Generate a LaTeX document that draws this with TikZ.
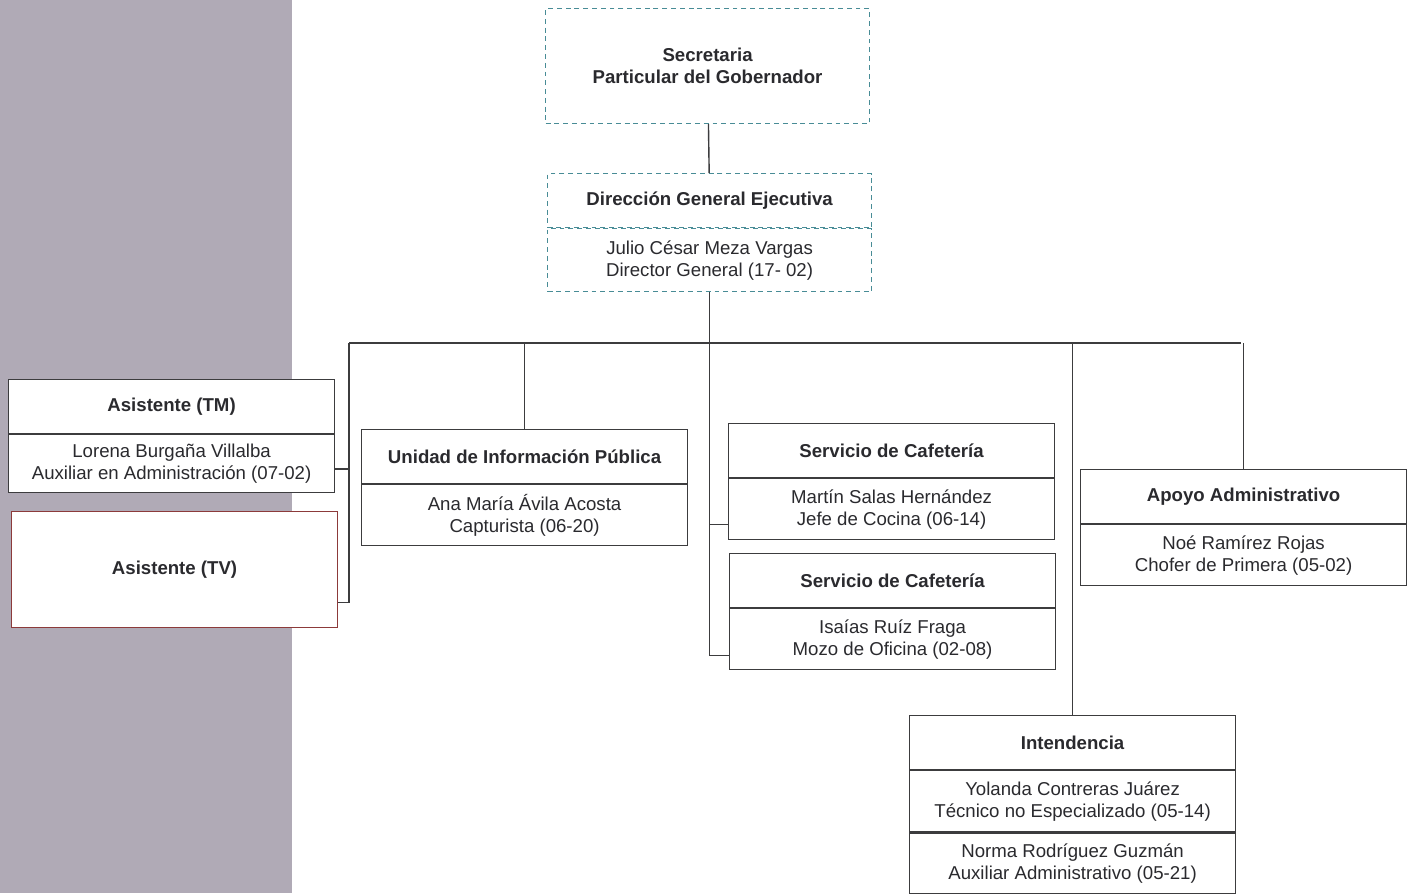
\documentclass[tikz,border=0pt]{standalone}
\usepackage{fontspec}
\setmainfont{Liberation Sans}
\usetikzlibrary{positioning,calc}

\definecolor{bandgray}{RGB}{176,170,182}
\definecolor{tealdash}{RGB}{72,140,150}
\definecolor{linegray}{RGB}{60,60,62}
\definecolor{textgray}{RGB}{42,42,46}
\definecolor{tvred}{RGB}{140,58,58}

\tikzset{
  unitbox/.style={draw=tealdash, line width=0.7pt, dash pattern=on 2.8pt off 2.2pt,
    fill=white, text=textgray, align=center, minimum width=6.48cm, inner sep=0pt},
  headbox/.style={draw=linegray, line width=0.7pt, fill=white, text=textgray, align=center,
    font=\fontsize{10.6}{12.5}\selectfont\bfseries, minimum width=6.52cm,
    minimum height=1.08cm, inner sep=0pt},
  namebox/.style={draw=linegray, line width=0.7pt, fill=white, text=textgray, align=center,
    font=\fontsize{10.6}{12.5}\selectfont, minimum width=6.52cm,
    minimum height=1.22cm, inner sep=0pt},
  wire/.style={draw=linegray, line width=0.8pt}
}

\begin{document}
\begin{tikzpicture}[x=0.02cm, y=-0.02cm]
  \useasboundingbox (0,0) rectangle (1416,893);
  \fill[bandgray] (0,0) rectangle (292,893);

  % top of the chart
  \node (sec) [unitbox, anchor=north west, minimum height=2.3cm,
    font=\fontsize{10.6}{12.5}\selectfont\bfseries] at (545,8)
    {Secretaria\\Particular del Gobernador};
  \node (dge) [unitbox, anchor=north west, minimum height=1.08cm,
    font=\fontsize{10.6}{12.5}\selectfont\bfseries] at (547,173)
    {Dirección General Ejecutiva};
  \node (dgeb) [unitbox, below=0pt of dge, minimum height=1.26cm,
    font=\fontsize{10.6}{12.5}\selectfont]
    {Julio César Meza Vargas\\Director General (17- 02)};

  % assistants
  \node (tm) [headbox, anchor=north west] at (8,379) {Asistente (TM)};
  \node (tmb) [namebox, below=0pt of tm, minimum height=1.16cm]
    {Lorena Burgaña Villalba\\Auxiliar en Administración (07-02)};
  \node (tv) [headbox, draw=tvred, anchor=north west, minimum height=2.32cm]
    at (11,511) {Asistente (TV)};

  % units
  \node (uip) [headbox, anchor=north west] at (361,429) {Unidad de Información Pública};
  \node (uipb) [namebox, below=0pt of uip] {Ana María Ávila Acosta\\Capturista (06-20)};

  \node (caf1) [headbox, anchor=north west] at (728,423) {Servicio de Cafetería};
  \node (caf1b) [namebox, below=0pt of caf1] {Martín Salas Hernández\\Jefe de Cocina (06-14)};

  \node (caf2) [headbox, anchor=north west] at (729,553) {Servicio de Cafetería};
  \node (caf2b) [namebox, below=0pt of caf2] {Isaías Ruíz Fraga\\Mozo de Oficina (02-08)};

  \node (apoyo) [headbox, anchor=north west] at (1080,469) {Apoyo Administrativo};
  \node (apoyob) [namebox, below=0pt of apoyo] {Noé Ramírez Rojas\\Chofer de Primera (05-02)};

  \node (int) [headbox, anchor=north west] at (909,715) {Intendencia};
  \node (intb) [namebox, below=0pt of int]
    {Yolanda Contreras Juárez\\Técnico no Especializado (05-14)};
  \node (intc) [namebox, below=0pt of intb]
    {Norma Rodríguez Guzmán\\Auxiliar Administrativo (05-21)};

  % connectors
  \coordinate (busL) at (349,343);
  \coordinate (busR) at (1241,343);
  \coordinate (tvstub) at ($(tv.south east)!0.22!(tv.north east)$);
  \coordinate (tmstub) at ($(tmb.east)+(0,5)$);
  \coordinate (caf1stub) at ($(caf1b.west)+(0,15)$);
  \coordinate (caf2stub) at ($(caf2b.west)+(0,16)$);

  \draw [wire] (sec) -- (dge);
  \draw [wire] (busL) -- (busR);
  \draw [wire] (busL) |- (tvstub);
  \draw [wire] (tmstub) -- (tmstub -| busL);
  \draw [wire] (uip.north) -- (uip.north |- busL);
  \draw [wire] (dgeb.south) -- (dgeb.south |- caf2stub) -- (caf2stub);
  \draw [wire] (caf1stub) -- (caf1stub -| dgeb.south);
  \draw [wire] (int.north) -- (int.north |- busL);
  \draw [wire] (apoyo.north) -- (apoyo.north |- busL);
\end{tikzpicture}
\end{document}
